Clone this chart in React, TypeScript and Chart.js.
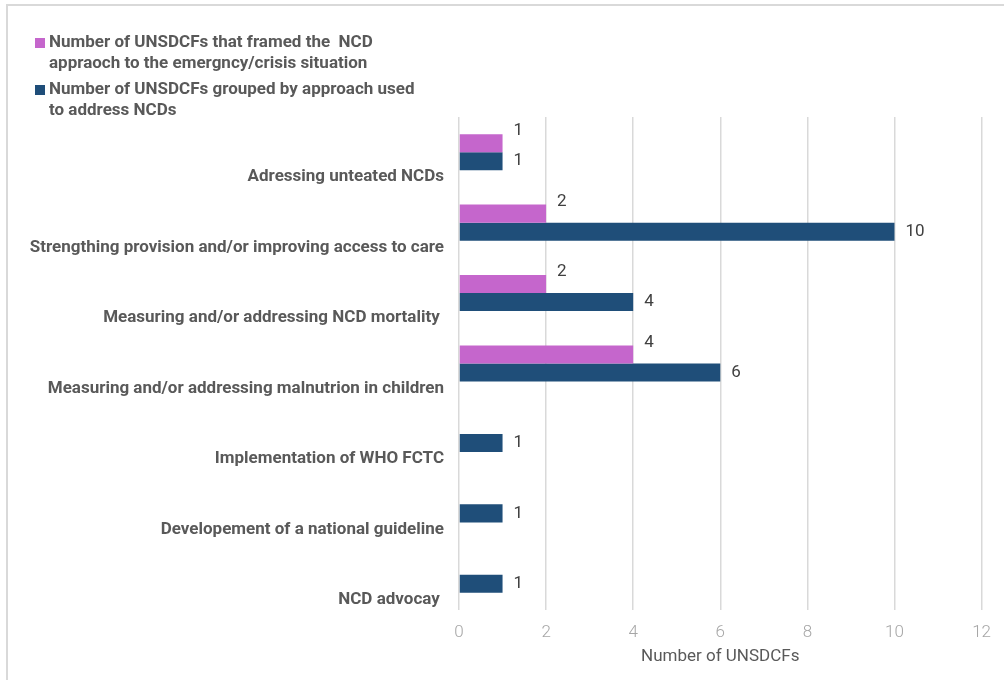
import React, { useEffect, useRef } from "react";
import { Chart, registerables } from "chart.js";

Chart.register(...registerables);

// Approaches used to address NCDs (top to bottom)
const categories = [
  "Adressing unteated NCDs",
  "Strengthing provision and/or improving access to care",
  "Measuring and/or addressing NCD mortality ",
  "Measuring and/or addressing malnutrion in children",
  "Implementation of WHO FCTC",
  "Developement of a national guideline",
  "NCD advocay ",
];

// UNSDCFs that framed the NCD approach to the emergency/crisis situation
const framedCrisis: (number | null)[] = [1, 2, 2, 4, null, null, null];
// UNSDCFs grouped by approach used to address NCDs
const groupedByApproach: (number | null)[] = [1, 10, 4, 6, 1, 1, 1];

const framedLabel = [
  "Number of UNSDCFs that framed the  NCD",
  "appraoch to the emergncy/crisis situation",
];
const groupedLabel = [
  "Number of UNSDCFs grouped by approach used",
  "to address NCDs",
];

const xMin = 0;
const xMax = 12;
const xStep = 2;
const axisTitle = "Number of UNSDCFs";

const MAGENTA = "#c566cc";
const NAVY = "#1f4e79";
const LABEL_GREY = "#595959";
const FONT = "Roboto, 'Noto Sans', sans-serif";

// Two-line legend drawn in the top padding
const legendPlugin = {
  id: "wrappedLegend",
  afterDraw(chart: Chart) {
    const ctx = chart.ctx;
    ctx.save();
    ctx.font = `bold 17px ${FONT}`;
    ctx.textBaseline = "middle";
    ctx.textAlign = "left";
    const items = [...chart.data.datasets].map((ds: any) => ({
      lines: ds.legendLines as string[],
      color: ds.backgroundColor as string,
    }));
    let y = 43;
    items.forEach((it) => {
      ctx.fillStyle = it.color;
      ctx.fillRect(35, y - 5, 10, 10);
      ctx.fillStyle = LABEL_GREY;
      it.lines.forEach((line, i) => ctx.fillText(line, 49, y + i * 20.5));
      y += 47;
    });
    ctx.restore();
  },
};

// Value labels next to each bar
const valueLabelPlugin = {
  id: "valueLabels",
  afterDatasetsDraw(chart: Chart) {
    const ctx = chart.ctx;
    ctx.save();
    ctx.font = `17px ${FONT}`;
    ctx.fillStyle = "#404040";
    ctx.textAlign = "left";
    ctx.textBaseline = "middle";
    chart.data.datasets.forEach((ds, di) => {
      const meta = chart.getDatasetMeta(di);
      meta.data.forEach((el: any, i) => {
        const v = ds.data[i] as number | null;
        if (v === null || v === undefined) return;
        const top = el.y - el.height / 2;
        const y = di === 0 ? top - 3 : el.y;
        ctx.fillText(String(v), el.x + 11, y);
      });
    });
    ctx.restore();
  },
};

export default function App() {
  const canvasRef = useRef<HTMLCanvasElement>(null);

  useEffect(() => {
    if (!canvasRef.current) return;
    const chart = new Chart(canvasRef.current, {
      type: "bar",
      data: {
        labels: categories,
        datasets: [
          {
            label: framedLabel.join(" "),
            legendLines: framedLabel,
            data: framedCrisis,
            backgroundColor: MAGENTA,
            categoryPercentage: 0.512,
            barPercentage: 1,
          } as any,
          {
            label: groupedLabel.join(" "),
            legendLines: groupedLabel,
            data: groupedByApproach,
            backgroundColor: NAVY,
            categoryPercentage: 0.512,
            barPercentage: 1,
          } as any,
        ],
      },
      options: {
        indexAxis: "y",
        responsive: false,
        animation: false,
        devicePixelRatio: 1,
        layout: { padding: { top: 117, right: 17, left: 0, bottom: 0 } },
        plugins: {
          legend: { display: false },
          tooltip: { enabled: false },
          title: { display: false },
        },
        scales: {
          x: {
            min: xMin,
            max: xMax,
            ticks: {
              stepSize: xStep,
              padding: 13,
              color: "#a6a6a6",
              font: { family: FONT, size: 17, weight: "300" as any },
            },
            title: {
              display: true,
              text: axisTitle,
              color: LABEL_GREY,
              font: { family: FONT, size: 17 },
              padding: { top: 0, bottom: 13 },
            },
            grid: { color: "#d9d9d9", lineWidth: 1.5, drawTicks: false },
            border: { display: false },
            afterFit(scale: any) {
              scale.height = 70;
            },
          },
          y: {
            ticks: {
              autoSkip: false,
              padding: 15,
              labelOffset: 25,
              color: LABEL_GREY,
              font: { family: FONT, size: 17, weight: "bold" },
            },
            grid: { display: false, drawTicks: false },
            border: { display: false },
            afterFit(scale: any) {
              scale.width = 459;
            },
          },
        },
      },
      plugins: [legendPlugin, valueLabelPlugin],
    });
    return () => chart.destroy();
  }, []);

  return (
    <div
      style={{
        position: "fixed",
        inset: 0,
        overflow: "hidden",
        background: "#ffffff",
      }}
    >
      <div
        style={{
          position: "absolute",
          left: 6,
          top: 4,
          width: 1010,
          height: 700,
          border: "2px solid #d9d9d9",
          boxSizing: "border-box",
        }}
      />
      <canvas
        ref={canvasRef}
        width={1004}
        height={680}
        style={{ position: "absolute", left: 0, top: 0, width: 1004, height: 680 }}
      />
    </div>
  );
}
